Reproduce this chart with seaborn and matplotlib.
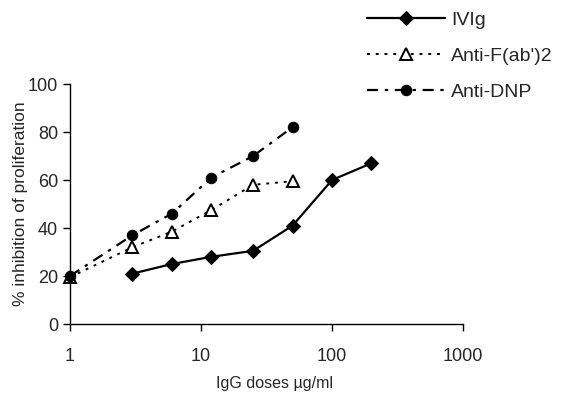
import matplotlib
matplotlib.use("Agg")
import matplotlib.pyplot as plt
import numpy as np
import pandas as pd
import seaborn as sns

# doses (ug/ml) and % inhibition
ivig_dose = [3, 6, 12, 25, 50, 100, 200]
ivig_inh = [21, 25, 28, 30.5, 41, 60, 67]

fab_dose = [1, 3, 6, 12, 25, 50]
fab_inh = [19.5, 32, 38.5, 47.5, 58, 59.5]

dnp_dose = [1, 3, 6, 12, 25, 50]
dnp_inh = [20, 37, 46, 61, 70, 82]

y_ticks = [0, 20, 40, 60, 80, 100]
x_ticks = [1, 10, 100, 1000]


def main():
    sns.set_style("ticks")
    plt.rcParams['font.family'] = ['Liberation Sans', 'DejaVu Sans']

    fig = plt.figure(figsize=(5.64, 4.04), dpi=100)
    ax = fig.add_axes([0.124, 0.198, 0.697, 0.594])

    sns.lineplot(x=ivig_dose, y=ivig_inh, ax=ax, color="black", lw=1.6,
                 marker="D", markersize=7.5, markerfacecolor="black",
                 markeredgecolor="black", label="IVIg")
    sns.lineplot(x=fab_dose, y=fab_inh, ax=ax, color="black", lw=1.4,
                 linestyle=(0, (1.5, 3)), marker="^", markersize=8.5,
                 markerfacecolor="white", markeredgecolor="black",
                 markeredgewidth=1.4, label="Anti-F(ab')2")
    sns.lineplot(x=dnp_dose, y=dnp_inh, ax=ax, color="black", lw=1.6,
                 linestyle=(0, (5, 3, 1.5, 3)), marker="o", markersize=7.5,
                 markerfacecolor="black", markeredgecolor="black",
                 label="Anti-DNP")

    ax.set_xscale("log")
    ax.set_xlim(1, 1000)
    ax.set_ylim(0, 100)
    ax.set_xticks(x_ticks)
    ax.set_xticklabels([str(t) for t in x_ticks])
    ax.xaxis.set_minor_locator(matplotlib.ticker.NullLocator())
    ax.set_yticks(y_ticks)
    ax.tick_params(axis="both", labelsize=13, length=5, width=1, color="black")
    ax.tick_params(axis="x", pad=12)
    ax.set_xlabel("IgG doses µg/ml", fontsize=11.5, labelpad=9)
    ax.xaxis.set_label_coords(0.52, -0.215)
    ax.set_ylabel("% inhibition of proliferation", fontsize=12.5, labelpad=0)
    for s in ["left", "bottom"]:
        ax.spines[s].set_color("black")
        ax.spines[s].set_linewidth(1)
    sns.despine(ax=ax)
    for ln in ax.lines:
        ln.set_clip_on(False)

    handles, labels = ax.get_legend_handles_labels()
    ax.legend_.remove()
    fig.legend(handles, labels, loc="upper left", bbox_to_anchor=(0.62, 1.015),
               frameon=False, fontsize=14, handlelength=4.0,
               labelspacing=0.95, handletextpad=0.3)

    fig.savefig("out.png", dpi=100)


if __name__ == "__main__":
    main()
